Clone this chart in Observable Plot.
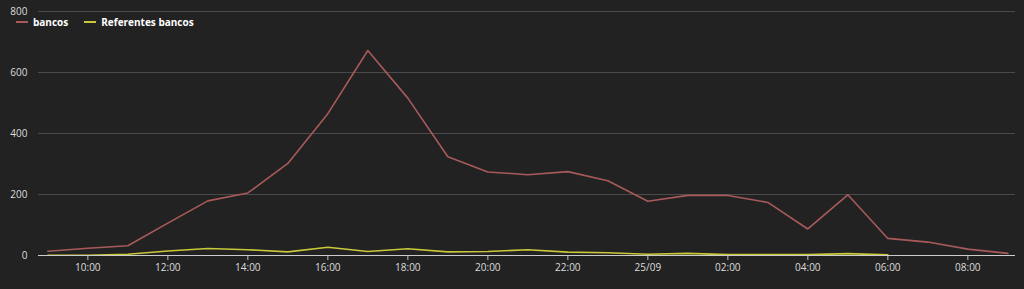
<!DOCTYPE html>
<html><head><meta charset="utf-8">
<script src="https://cdn.jsdelivr.net/npm/d3@7"></script>
<script src="https://cdn.jsdelivr.net/npm/@observablehq/plot@0.6"></script>
<style>
html,body{margin:0;padding:0;background:#222222;}
#wrap{position:relative;width:1024px;height:289px;}
#legend{position:absolute;left:16px;top:15px;font:bold 10px "Open Sans",sans-serif;color:#fff;display:flex;gap:16px;}
#legend span{display:flex;align-items:center;}
#legend i{display:inline-block;width:12px;height:2px;margin-right:5px;}
</style></head>
<body><div id="wrap"><div id="legend"></div></div>
<script>
const times = ["2023-09-24T09:00","2023-09-24T10:00","2023-09-24T11:00","2023-09-24T12:00","2023-09-24T13:00","2023-09-24T14:00","2023-09-24T15:00","2023-09-24T16:00","2023-09-24T17:00","2023-09-24T18:00","2023-09-24T19:00","2023-09-24T20:00","2023-09-24T21:00","2023-09-24T22:00","2023-09-24T23:00","2023-09-25T00:00","2023-09-25T01:00","2023-09-25T02:00","2023-09-25T03:00","2023-09-25T04:00","2023-09-25T05:00","2023-09-25T06:00","2023-09-25T07:00","2023-09-25T08:00","2023-09-25T09:00"];
const bancos = [14,24,32,106,179,205,302,465,672,516,324,274,265,275,245,178,197,197,174,87,199,56,44,21,7];
const referentes = [1,1,4,15,23,19,12,27,13,22,12,13,19,11,9,4,7,3,3,3,6,2];
const seriesNames = ["bancos","Referentes bancos"];
const seriesColors = ["#a85a5a","#c9c83a"];
const yTicks = [0,200,400,600,800];
const xTicks = ["2023-09-24T10:00","2023-09-24T12:00","2023-09-24T14:00","2023-09-24T16:00","2023-09-24T18:00","2023-09-24T20:00","2023-09-24T22:00","2023-09-25T00:00","2023-09-25T02:00","2023-09-25T04:00","2023-09-25T06:00","2023-09-25T08:00"];

const parse = s => new Date(s);
const data = [];
bancos.forEach((v,i)=>data.push({t:parse(times[i]),v,s:seriesNames[0]}));
referentes.forEach((v,i)=>data.push({t:parse(times[i]),v,s:seriesNames[1]}));

const fmt = d => (d.getHours()===0 ? d3.timeFormat("%d/%m")(d) : d3.timeFormat("%H:%M")(d));

const chart = Plot.plot({
  width:1024, height:289,
  marginLeft:38, marginRight:9, marginTop:11, marginBottom:34,
  style:{background:"#222222", color:"#dddddd", fontFamily:"'Open Sans',sans-serif", fontSize:"10px"},
  x:{type:"time", domain:[new Date("2023-09-24T08:46"), new Date("2023-09-25T09:11:30")]},
  y:{domain:[0,800]},
  color:{domain:seriesNames, range:seriesColors},
  marks:[
    Plot.ruleY(yTicks.filter(d=>d>0), {stroke:"#4a4a4a", strokeWidth:1}),
    Plot.axisY({ticks:yTicks, tickSize:0, tickPadding:11, label:null, fill:"#dddddd"}),
    Plot.axisX({ticks:xTicks.map(parse), tickFormat:fmt, tickSize:5, tickPadding:3, label:null, stroke:"#bbbbbb", fill:"#dddddd"}),
    Plot.line(data, {x:"t", y:"v", z:"s", stroke:"s", strokeWidth:1.6}),
    Plot.ruleY([0], {stroke:"#cccccc", strokeWidth:1})
  ]
});
document.getElementById("wrap").prepend(chart);
const lg = document.getElementById("legend");
seriesNames.forEach((n,i)=>{
  const s=document.createElement("span");
  s.innerHTML=`<i style="background:${seriesColors[i]}"></i>${n}`;
  lg.appendChild(s);
});
</script></body></html>
